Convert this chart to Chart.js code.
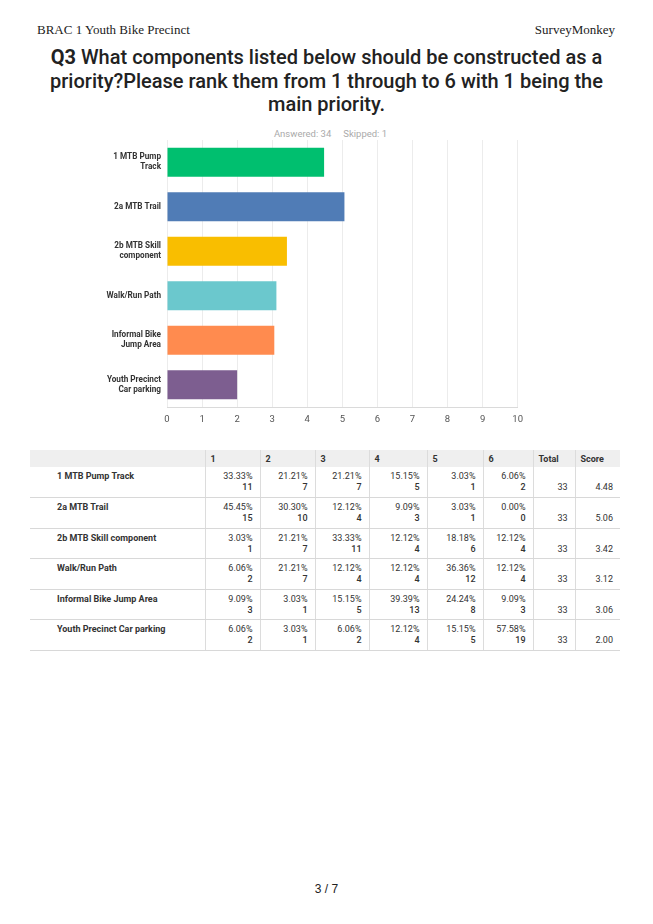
<!DOCTYPE html>
<html lang="en">
<head>
  <meta charset="UTF-8">
  <title>Q3 priorities</title>
  <script src="https://cdn.jsdelivr.net/npm/chart.js@4.4.1/dist/chart.umd.min.js"></script>
  <style>
    body { margin:0; width:653px; height:924px; position:relative; background:#fff; font-family:"Roboto", sans-serif; color:#333; }
    .hdr { position:absolute; top:22px; font-family:"Liberation Serif", serif; font-size:13px; color:#222; }
    #title { position:absolute; top:46px; left:0; width:653px; text-align:center; font-size:20px; line-height:23.5px; font-weight:500; color:#222; }
    #title b { font-weight:700; }
    #answered { position:absolute; top:128px; left:0; width:653px; text-align:center; font-size:9.5px; color:#aaa; padding-left:8px; box-sizing:border-box; }
    #answered span { margin:0 6px; }
    #chartBox { position:absolute; left:30px; top:138px; width:500px; height:290px; }
    table { position:absolute; left:30px; top:450px; width:590px; border-collapse:collapse; table-layout:fixed; font-size:9px; }
    th { background:#efefef; height:17px; text-align:left; font-weight:700; padding:0 5px; border-left:1px solid #dcdcdc; color:#333; }
    th:first-child { border-left:none; }
    td { box-sizing:border-box; height:30.5px; vertical-align:top; padding:4px 7px 0 5px; text-align:right; line-height:11px; border-left:1px solid #dcdcdc; border-bottom:1px solid #d8d8d8; }
    td.lbl { text-align:left; font-weight:700; border-left:none; padding-left:27px; }
    td.low { padding-top:15px; }
    td .n { font-weight:500; }
    #page { position:absolute; top:882px; left:0; width:653px; text-align:center; font-family:"Liberation Sans", sans-serif; font-size:12px; color:#222; }
  </style>
</head>
<body>
  <div class="hdr" style="left:37px">BRAC 1 Youth Bike Precinct</div>
  <div class="hdr" style="right:38px">SurveyMonkey</div>
  <div id="title"><b>Q3</b> What components listed below should be constructed as a<br>priority?Please rank them from 1 through to 6 with 1 being the<br>main priority.</div>
  <div id="answered"><span>Answered: 34</span><span>Skipped: 1</span></div>
  <div id="chartBox"><canvas id="chart"></canvas></div>
  <table id="tbl"></table>
  <div id="page">3 / 7</div>

  <script>
    const categories = [
      ["1 MTB Pump", "Track"],
      ["2a MTB Trail"],
      ["2b MTB Skill", "component"],
      ["Walk/Run Path"],
      ["Informal Bike", "Jump Area"],
      ["Youth Precinct", "Car parking"]
    ]
    const scores = [4.48, 5.06, 3.42, 3.12, 3.06, 2.00]
    const barColors = ["#00bf6f", "#507cb6", "#f9be00", "#6bc8cd", "#ff8b4f", "#7d5e90"]
    const xTicks = [0, 1, 2, 3, 4, 5, 6, 7, 8, 9, 10]

    const rowLabels = ["1 MTB Pump Track", "2a MTB Trail", "2b MTB Skill component", "Walk/Run Path", "Informal Bike Jump Area", "Youth Precinct Car parking"]
    const rankHeaders = ["1", "2", "3", "4", "5", "6"]
    const percents = [
      ["33.33%", "21.21%", "21.21%", "15.15%", "3.03%", "6.06%"],
      ["45.45%", "30.30%", "12.12%", "9.09%", "3.03%", "0.00%"],
      ["3.03%", "21.21%", "33.33%", "12.12%", "18.18%", "12.12%"],
      ["6.06%", "21.21%", "12.12%", "12.12%", "36.36%", "12.12%"],
      ["9.09%", "3.03%", "15.15%", "39.39%", "24.24%", "9.09%"],
      ["6.06%", "3.03%", "6.06%", "12.12%", "15.15%", "57.58%"]
    ]
    const counts = [
      [11, 7, 7, 5, 1, 2],
      [15, 10, 4, 3, 1, 0],
      [1, 7, 11, 4, 6, 4],
      [2, 7, 4, 4, 12, 4],
      [3, 1, 5, 13, 8, 3],
      [2, 1, 2, 4, 5, 19]
    ]
    const totals = [33, 33, 33, 33, 33, 33]

    // table
    const colWidths = [175, 55, 55, 54, 58, 56, 50, 42, 45]
    let html = "<colgroup>" + colWidths.map(w => `<col style="width:${w}px">`).join("") + "</colgroup>"
    html += "<tr><th></th>" + rankHeaders.map(h => `<th>${h}</th>`).join("") + "<th>Total</th><th>Score</th></tr>"
    rowLabels.forEach((lbl, i) => {
      html += `<tr><td class="lbl">${lbl}</td>`
      percents[i].forEach((p, j) => {
        html += `<td>${p}<br><span class="n">${counts[i][j]}</span></td>`
      })
      html += `<td class="low">${totals[i]}</td><td class="low">${scores[i].toFixed(2)}</td></tr>`
    })
    document.getElementById("tbl").innerHTML = html

    // chart
    new Chart(document.getElementById("chart"), {
      type: "bar",
      data: {
        labels: categories,
        datasets: [{
          data: scores,
          backgroundColor: barColors,
          barPercentage: 0.65,
          categoryPercentage: 1
        }]
      },
      options: {
        indexAxis: "y",
        responsive: true,
        maintainAspectRatio: false,
        animation: false,
        layout: { padding: { top: 2, right: 7, bottom: 0, left: 0 } },
        plugins: { legend: { display: false }, tooltip: { enabled: false } },
        scales: {
          x: {
            min: 0,
            max: 10,
            afterBuildTicks: s => { s.ticks = xTicks.map(v => ({ value: v })) },
            grid: { color: "#ececec", drawTicks: false },
            border: { display: true, color: "#dadada" },
            ticks: { padding: 7, color: "#555", font: { family: "Roboto", size: 9.5 } },
            afterFit: s => { s.height = 21 }
          },
          y: {
            grid: { display: false, drawTicks: false },
            border: { display: false },
            ticks: { padding: 6, color: "#333", font: { family: "Roboto", size: 8.2, weight: "bold", lineHeight: 1.22 } },
            afterFit: s => { s.width = 137; s.paddingTop = 0; s.paddingBottom = 0 }
          }
        }
      }
    })
  </script>
</body>
</html>
